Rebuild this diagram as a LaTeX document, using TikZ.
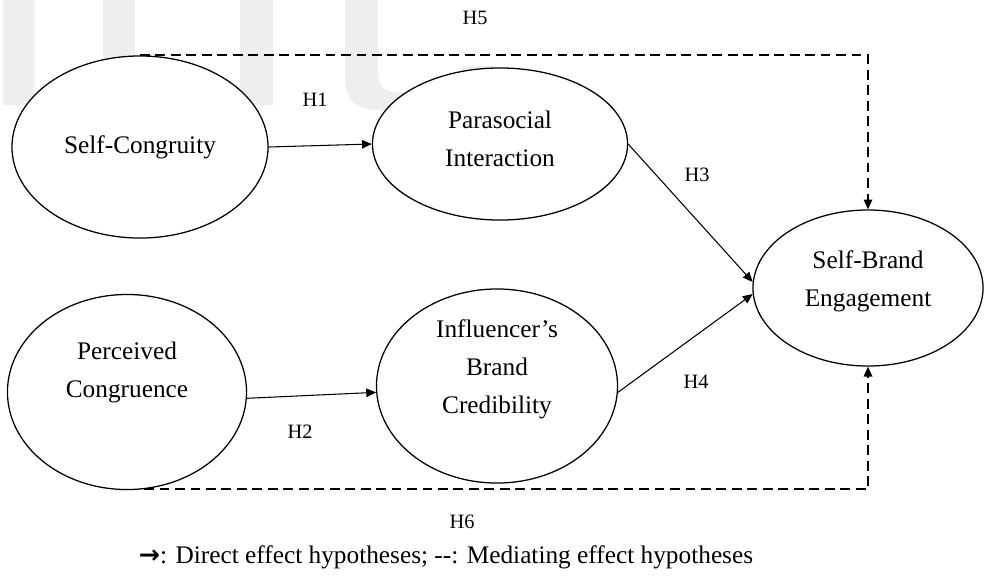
\documentclass[tikz,border=0pt]{standalone}
\usepackage{fontspec}
\setmainfont{Liberation Serif}
\newfontfamily\arrowfont{DejaVu Sans}
\usetikzlibrary{shapes.geometric,arrows.meta}

\begin{document}
\begin{tikzpicture}[x=0.025cm, y=-0.025cm,
	construct/.style={draw, ellipse, line width=0.9pt, fill=white, inner sep=0pt},
	ctext/.style={align=center, font=\fontsize{18}{27}\selectfont},
	hlabel/.style={font=\fontsize{14.5}{17}\selectfont},
	direct/.style={line width=0.75pt, -{Triangle[length=7pt,width=6pt]}},
	mediating/.style={line width=1.3pt, dash pattern=on 7pt off 4pt, -{Triangle[length=7pt,width=6pt]}},
	wmark/.style={fill=gray!13}]
	\useasboundingbox (0,0) rectangle (984,575);
	\fill[wmark] (3,0) rectangle (35,105);
	\fill[wmark] (103,0) rectangle (135,105);
	\fill[wmark] (240,0) rectangle (273,105);
	\fill[wmark] (345,0) -- (345,75) .. controls (345,100) and (355,110) .. (380,110) -- (420,110) -- (420,92) -- (395,92) .. controls (383,92) and (378,84) .. (378,70) -- (378,0) -- cycle;
	\fill[wmark] (462,66) rectangle (493,110);

	\node[construct, minimum width=6.4cm, minimum height=4.55cm] (sc) at (140,147) {};
	\node[construct, minimum width=6.375cm, minimum height=3.8cm] (pi) at (500,144) {};
	\node[construct, minimum width=5.75cm, minimum height=3.9cm] (sbe) at (868,288) {};
	\node[construct, minimum width=5.975cm, minimum height=4.875cm] (pc) at (127,392) {};
	\node[construct, minimum width=6.025cm, minimum height=4.85cm] (ibc) at (497,386) {};

	\node[ctext] (sc-t) at (sc) {Self-Congruity};
	\node[ctext] (pi-t) at (500,139) {Parasocial\\Interaction};
	\node[ctext] (sbe-t) at (868,281) {Self-Brand\\Engagement};
	\node[ctext] (pc-t) at (127,372) {Perceived\\Congruence};
	\node[ctext] (ibc-t) at (497,369) {Influencer’s\\Brand\\Credibility};

	\draw[direct] (sc.east) -- (pi.west);
	\draw[direct] (pc.-3) -- (ibc.183);
	\draw[direct] (pi.east) -- (sbe.177);
	\draw[direct] (ibc.-3) -- (sbe.183);
	\draw[mediating] (sc.north) -| (sbe.north);
	\draw[mediating] (pc.-80) -| (sbe.south);

	\node[hlabel] (h1) at (315,100) {H1};
	\node[hlabel] (h2) at (300,432) {H2};
	\node[hlabel] (h3) at (697,175) {H3};
	\node[hlabel] (h4) at (696,382) {H4};
	\node[hlabel] (h5) at (475,18) {H5};
	\node[hlabel] (h6) at (462,522) {H6};

	\node[ctext] (legend) at (446,557) {{\arrowfont\bfseries →}: Direct effect hypotheses; -{}-: Mediating effect hypotheses};
\end{tikzpicture}
\end{document}
